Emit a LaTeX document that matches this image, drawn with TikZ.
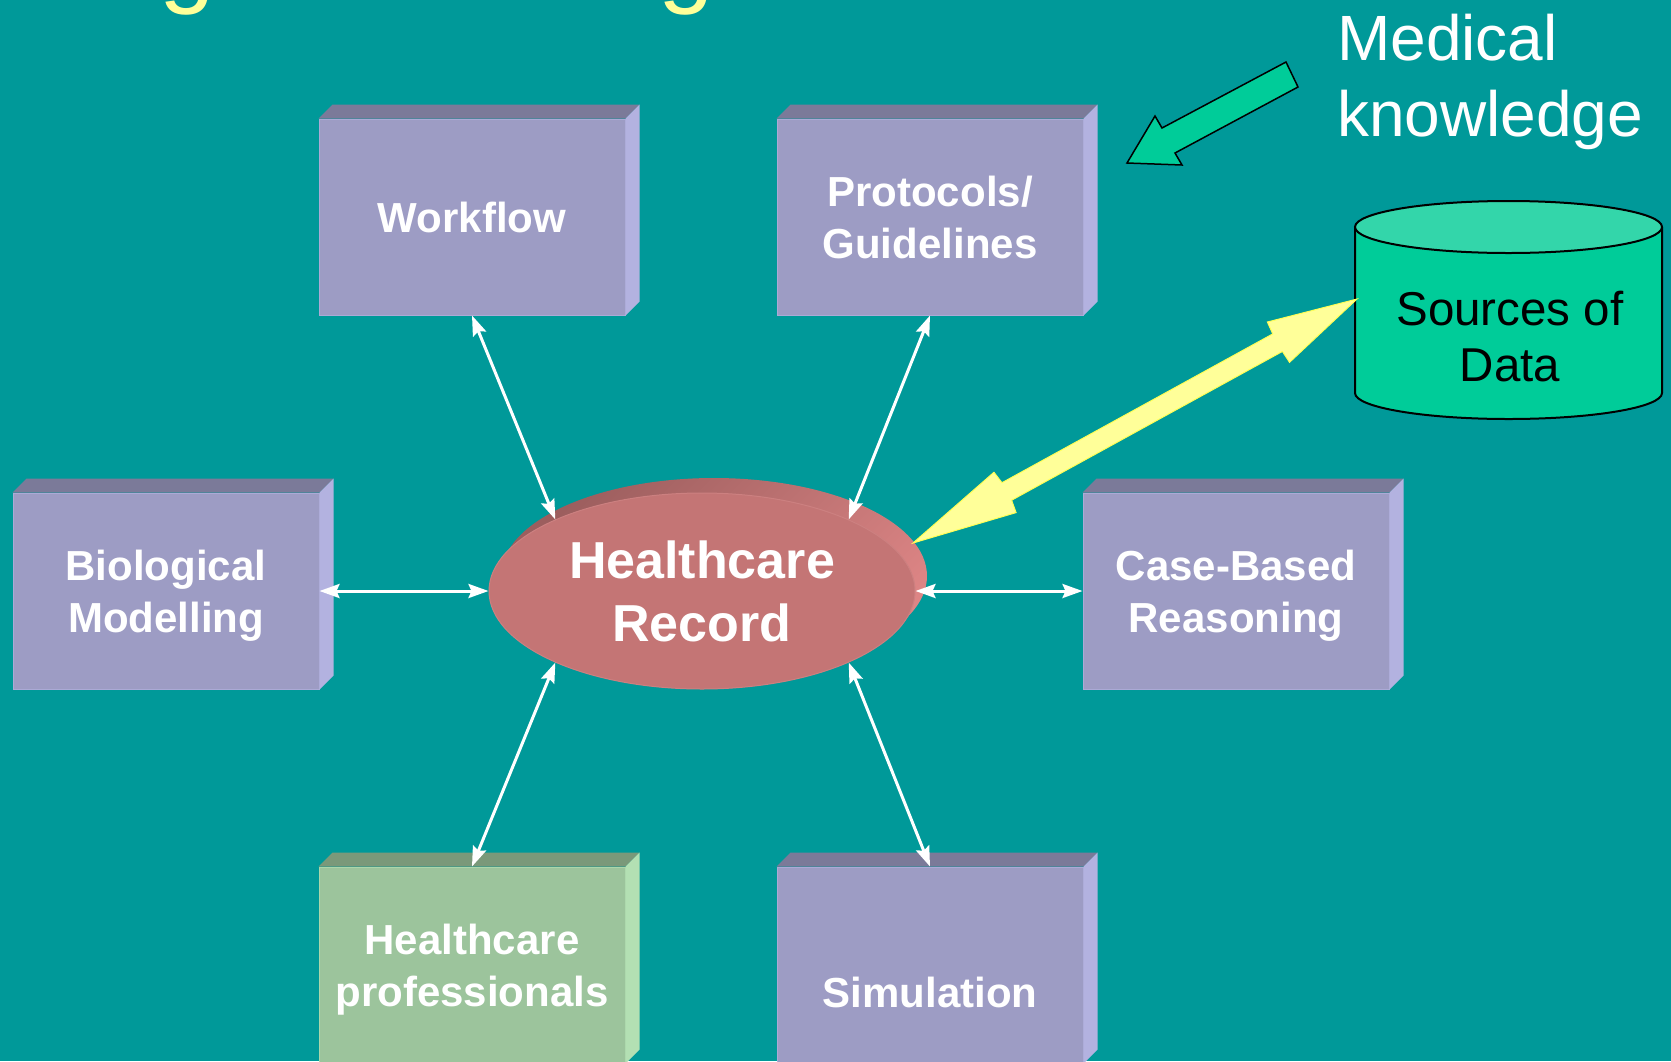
\documentclass[tikz,border=0pt]{standalone}
\usepackage{fontspec}
\setmainfont{Liberation Sans}
\usetikzlibrary{shapes.geometric,arrows.meta}
\definecolor{bg}{HTML}{009999}
\definecolor{bfront}{HTML}{9D9CC4}
\definecolor{btop}{HTML}{7B7A99}
\definecolor{bside}{HTML}{B3B2E0}
\definecolor{bedge}{HTML}{ABAAD6}
\definecolor{gfront}{HTML}{9CC49C}
\definecolor{gtop}{HTML}{7A997A}
\definecolor{gside}{HTML}{B3E0B3}
\definecolor{gedge}{HTML}{ABD6AB}
\definecolor{ellfront}{HTML}{C47575}
\definecolor{elledge}{HTML}{CC8080}
\definecolor{elldark}{HTML}{9C5E5E}
\definecolor{elllight}{HTML}{DD8585}
\definecolor{cylbody}{HTML}{00CC99}
\definecolor{cyltop}{HTML}{33D6AA}
\definecolor{yarrow}{HTML}{FFFF99}
\definecolor{yedge}{HTML}{FFFF55}
\definecolor{titlecol}{HTML}{FFFF99}
\newcommand\boxfaces[3]{%
  \fill[#2] (#1.north west) -- ++(14,-14) -- ([shift={(14,-14)}]#1.north east) -- (#1.north east) -- cycle;
  \fill[#3] (#1.north east) -- ([shift={(14,-14)}]#1.north east) -- ([shift={(14,-14)}]#1.south east) -- (#1.south east) -- cycle;}
\begin{document}
\begin{tikzpicture}[x=1pt,y=-1pt,
  box/.style={rectangle, minimum width=306pt, minimum height=196pt, inner sep=0pt,
    fill=bfront, draw=bedge, line width=1pt, text=white, align=center, text depth=0pt,
    font=\bfseries\fontsize{42}{52}\selectfont},
  gbox/.style={box, fill=gfront, draw=gedge},
  boxtext/.style={inner sep=0pt, text=white, font=\bfseries\fontsize{42}{52}\selectfont},
  link/.style={white, line width=3pt, >={Stealth[length=20pt,width=14pt,inset=3pt]}, <->},
  titletext/.style={anchor=base west, inner sep=0pt, text=titlecol, font=\fontsize{100}{110}\selectfont},
]
\fill[bg] (0,0) rectangle (1671,1061);
\useasboundingbox (0,0) rectangle (1671,1061);

% cut-off title
\node[titletext] (t1) at (159,-6) {g};
\node[titletext] (t2) at (658,-6) {g};

% boxes
\node[box] (wf) at (472,217) {Workflow};
\boxfaces{wf}{btop}{bside}
\node[box] (pg) at (930,217) {Protocols/\\Guidelines};
\boxfaces{pg}{btop}{bside}
\node[box] (bio) at (166,591) {Biological\\Modelling};
\boxfaces{bio}{btop}{bside}
\node[box] (cbr) at (1236,591) {Case-Based\\Reasoning};
\boxfaces{cbr}{btop}{bside}
\node[gbox] (hp) at (472,965) {Healthcare\\professionals};
\boxfaces{hp}{gtop}{gside}
\node[box] (sim) at (930,965) {};
\boxfaces{sim}{btop}{bside}
\node[boxtext, anchor=base] (simt) at (930,1007) {Simulation};

% central ellipse
\coordinate (hrc) at (702,591);
\shade[top color=elldark, bottom color=elllight, shading angle=45]
  ([shift={(12,-15)}]hrc) ellipse[x radius=213pt, y radius=98pt];
\node[ellipse, minimum width=426pt, minimum height=196pt, inner sep=0pt,
  fill=ellfront, draw=elledge, line width=1pt, text=white, align=center,
  font=\bfseries\fontsize{52}{63}\selectfont] (hr) at (hrc) {Healthcare\\Record};

% connectors
\draw[link] (wf.south) -- (hr.154);
\draw[link] (pg.south) -- (hr.26);
\draw[link] (bio.east) -- (hr.west);
\draw[link] (hr.east) -- (cbr.west);
\draw[link] (hr.206) -- (hp.north);
\draw[link] (hr.334) -- (sim.north);

% sources of data cylinder
\fill[cylbody] (1355,227) rectangle (1662,393);
\fill[cylbody] (1508.5,393) ellipse[x radius=153.5pt, y radius=26pt];
\draw[black, line width=2pt] (1355,227) -- (1355,393)
  arc[start angle=180, end angle=360, x radius=153.5pt, y radius=26pt] -- (1662,227);
\filldraw[fill=cyltop, draw=black, line width=2pt] (1508.5,227) ellipse[x radius=153.5pt, y radius=26pt];
\node[inner sep=0pt, align=center, text=black, font=\fontsize{47.5}{56}\selectfont] (src) at (1510,337) {Sources of\\Data};

% thick yellow double arrow
\coordinate (ya) at (913,543);
\coordinate (yb) at (1357,299);
\begin{scope}[shift={(ya)}, x={(0.8764pt,0.4816pt)}, y={(-0.4816pt,0.8764pt)}]
\filldraw[fill=yarrow, draw=yedge, line width=1pt, line join=miter]
  (0,0) -- (105,23) -- (107,10) -- (416,10) -- (417,23) -- (506.6,0)
  -- (417,-23) -- (416,-10) -- (107,-10) -- (105,-23) -- cycle;
\end{scope}

% medical knowledge
\filldraw[fill=cylbody, draw=black, line width=1.5pt, line join=miter]
  (1286,62) -- (1162,128) -- (1155,116) -- (1127,163) -- (1182,165) -- (1175,153) -- (1298,87) -- cycle;
\node[anchor=north west, inner sep=0pt, align=left, text=white,
  font=\fontsize{64}{76}\selectfont] (mk) at (1337,14) {Medical\\knowledge};
\end{tikzpicture}
\end{document}
